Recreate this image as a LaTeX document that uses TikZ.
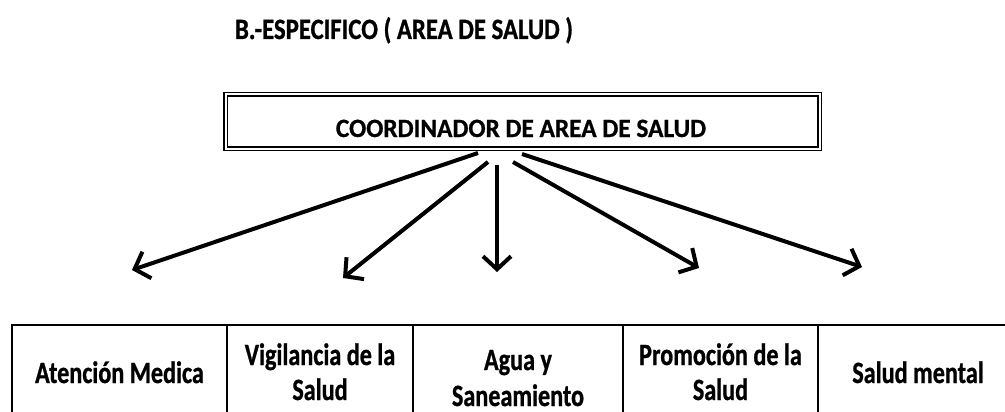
\documentclass[tikz,border=0pt]{standalone}
\usepackage{fontspec}
\setmainfont{Carlito}[FakeStretch=0.78, BoldFeatures={FakeBold=0.8}]
\newfontfamily\coordfont{Carlito}[FakeStretch=0.96, BoldFeatures={FakeBold=0.8}]
\newfontfamily\titlefont{Carlito}[FakeStretch=0.84, BoldFeatures={FakeBold=0.8}]
\usetikzlibrary{arrows.meta}
\tikzset{
  txt/.style={inner sep=0pt, anchor=base},
  celltxt/.style={txt, font=\fontsize{31}{35}\selectfont\bfseries, align=center},
  cellbox/.style={draw, line width=2.5pt, inner sep=0pt, minimum height=110pt},
  arr/.style={line width=4pt, -{Straight Barb[length=13pt, width=28pt]}},
  coordbox/.style={draw, line width=1.1pt, double, double distance=2pt, inner sep=0pt,
    minimum width=594pt, minimum height=54pt}
}
\begin{document}
\begin{tikzpicture}[x=1pt, y=-1pt]
\clip (0,0) rectangle (1005,412);
\fill[white] (0,0) rectangle (1005,412);
% title
\node[txt, font=\titlefont\fontsize{29.5}{34}\selectfont\bfseries] (title) at (404,39) {B.-ESPECIFICO ( AREA DE SALUD )};
% coordinator box
\node[coordbox] (coord) at (522.5,121.5) {};
\node[txt, font=\coordfont\fontsize{26.4}{30}\selectfont\bfseries] (coordtxt) at (521,137) {COORDINADOR DE AREA DE SALUD};
% arrow start / end points
\coordinate (s1) at (478,153);
\coordinate (s2) at (488,162);
\coordinate (s3) at (497,165);
\coordinate (s4) at (513,162);
\coordinate (s5) at (522,154);
\coordinate (t1) at (132,270);
\coordinate (t2) at (343,278);
\coordinate (t3) at (497,272);
\coordinate (t4) at (699,268);
\coordinate (t5) at (862,267);
\foreach \i in {1,...,5} { \draw[arr] (s\i) -- (t\i); }
% table cells
\node[cellbox, minimum width=215pt] (c1) at (119.5,380) {};
\node[cellbox, minimum width=186pt] (c2) at (320,380) {};
\node[cellbox, minimum width=210pt] (c3) at (518,380) {};
\node[cellbox, minimum width=195pt] (c4) at (720.5,380) {};
\node[cellbox, minimum width=200pt] (c5) at (918,380) {};
% cell texts (base anchor = baseline of last line)
\node[celltxt] (t1txt) at (119.5,383) {Atención Medica};
\node[celltxt] (t2txt) at (320,400) {Vigilancia de la\\Salud};
\node[celltxt, font=\fontsize{31}{36}\selectfont\bfseries] (t3txt) at (518,406) {Agua y\\Saneamiento};
\node[celltxt] (t4txt) at (720.5,400) {Promoción de la\\Salud};
\node[celltxt] (t5txt) at (918,383) {Salud mental};
\end{tikzpicture}
\end{document}
